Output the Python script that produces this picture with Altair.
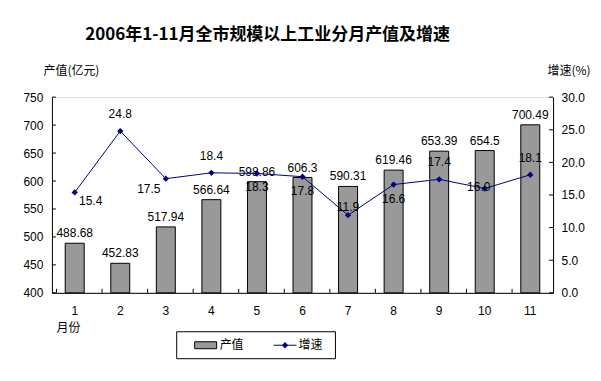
import altair as alt
import pandas as pd

months = [str(i) for i in range(1, 12)]
output = [488.68, 452.83, 517.94, 566.64, 598.86, 606.3, 590.31, 619.46, 653.39, 654.5, 700.49]
output_labels = ["488.68", "452.83", "517.94", "566.64", "598.86", "606.3", "590.31", "619.46", "653.39", "654.5", "700.49"]
growth = [15.4, 24.8, 17.5, 18.4, 18.3, 17.8, 11.9, 16.6, 17.4, 16.0, 18.1]
left_ticks = [400, 450, 500, 550, 600, 650, 700, 750]
right_ticks = [0, 5, 10, 15, 20, 25, 30]

# label placement group per month (style only)
placement = {"1": "rb", "2": "a", "3": "lb", "4": "a", "5": "b", "6": "b", "7": "c",
             "8": "b", "9": "a", "10": "m", "11": "a"}

df = pd.DataFrame({"month": months, "output": output, "olabel": output_labels, "growth": growth})
df["glabel"] = [f"{g:.1f}" for g in growth]
df["place"] = df["month"].map(placement)
lt = pd.DataFrame({"v": left_ticks})
rt = pd.DataFrame({"v": right_ticks})

CJK = "Noto Sans CJK SC"
NUM = "Liberation Sans"
GREY = "#999999"
NAVY = "#000080"
W, H = 502, 196

xaxis = alt.Axis(title="月份", labelAngle=0, ticks=False, titleAnchor="start",
                 titleX=4, titleY=30, titleFont=CJK, titleFontWeight="normal",
                 titleFontSize=12, labelFont=NUM, labelFontSize=12, labelPadding=13,
                 domainColor="black", labelColor="black")
xscale = alt.Scale(paddingInner=0.2, paddingOuter=0.1)
xenc = alt.X("month:N", sort=months, scale=xscale, axis=xaxis)

yaxis_l = alt.Axis(title="产值(亿元)", titleAngle=0, titleAlign="left", titleX=-9, titleY=-20,
                   titleFont=CJK, titleFontWeight="normal", titleFontSize=12,
                   values=left_ticks, labelFont=NUM, labelFontSize=12,
                   ticks=False, grid=False, domainColor="black",
                   labelColor="black", labelPadding=9)
ylscale = alt.Scale(domain=[400, 750], zero=False, nice=False)
yl = alt.Y("output:Q", scale=ylscale, axis=yaxis_l)

bars = alt.Chart(df).mark_bar(size=19, color=GREY, stroke="black", strokeWidth=1).encode(
    x=xenc, y=yl, y2=alt.datum(400))
bar_text = alt.Chart(df).mark_text(font=NUM, fontSize=12, dy=-10, color="black").encode(
    x=xenc, y=yl, text="olabel:N")
xticks = alt.Chart(df).mark_rule(color="black", strokeWidth=1).encode(
    x=alt.X("month:N", sort=months, scale=xscale, axis=xaxis, bandPosition=0),
    y=alt.value(H - 4), y2=alt.value(H))
lticks = alt.Chart(lt).mark_rule(color="black", strokeWidth=1).encode(
    y=alt.Y("v:Q", scale=ylscale, axis=yaxis_l), x=alt.value(0), x2=alt.value(4))

left = alt.layer(bars, bar_text, xticks, lticks)

yaxis_r = alt.Axis(title="增速(%)", orient="right", titleAngle=0, titleAlign="left",
                   titleX=-6, titleY=-20, titleFont=CJK, titleFontWeight="normal", titleFontSize=12,
                   values=right_ticks, format=".1f", labelFont=NUM,
                   labelFontSize=12, ticks=False, grid=False, domainColor="black",
                   labelColor="black", labelPadding=8)
yrscale = alt.Scale(domain=[0, 30], nice=False)
yg = alt.Y("growth:Q", scale=yrscale, axis=yaxis_r)

line = alt.Chart(df).mark_line(color=NAVY, strokeWidth=1,
                               point=alt.OverlayMarkDef(shape="diamond", size=40, color=NAVY, filled=True)).encode(
    x=xenc, y=yg)

offsets = {"rb": (16, 9), "a": (0, -17), "lb": (-17, 10), "b": (0, 14), "c": (0, -8), "m": (-6, -1)}
glayers = []
for key, (dx, dy) in offsets.items():
    glayers.append(alt.Chart(df).transform_filter(alt.datum.place == key).mark_text(
        font=NUM, fontSize=12, dx=dx, dy=dy, color="black").encode(
        x=xenc, y=yg, text="glabel:N"))
rticks = alt.Chart(rt).mark_rule(color="black", strokeWidth=1).encode(
    y=alt.Y("v:Q", scale=yrscale, axis=yaxis_r), x=alt.value(W - 4), x2=alt.value(W))

right = alt.layer(line, *glayers, rticks)

one = pd.DataFrame({"a": [0]})
leg_box = alt.Chart(one).mark_rect(fill="white", stroke="black", strokeWidth=1).encode(
    x=alt.value(125), x2=alt.value(284), y=alt.value(235), y2=alt.value(262))
leg_sw = alt.Chart(one).mark_rect(fill=GREY, stroke="black", strokeWidth=1).encode(
    x=alt.value(143), x2=alt.value(165), y=alt.value(245), y2=alt.value(252))
leg_t1 = alt.Chart(one).mark_text(text="产值", font=CJK, fontSize=12, align="left", baseline="middle").encode(
    x=alt.value(168), y=alt.value(248.5))
leg_ln = alt.Chart(one).mark_rule(color=NAVY, strokeWidth=1).encode(
    x=alt.value(222), x2=alt.value(245), y=alt.value(248.5))
leg_pt = alt.Chart(one).mark_point(shape="diamond", size=40, color=NAVY, filled=True, opacity=1).encode(
    x=alt.value(233.5), y=alt.value(248.5))
leg_t2 = alt.Chart(one).mark_text(text="增速", font=CJK, fontSize=12, align="left", baseline="middle").encode(
    x=alt.value(247), y=alt.value(248.5))
title = alt.Chart(one).mark_text(text="2006年1-11月全市规模以上工业分月产值及增速", font=CJK, fontSize=17,
                                 fontWeight="bold", align="center", baseline="middle", color="black").encode(
    x=alt.value(216), y=alt.value(-62))

legend = alt.layer(leg_box, leg_sw, leg_t1, leg_ln, leg_pt, leg_t2, title)

chart = alt.layer(left, right, legend).resolve_scale(y="independent").properties(
    width=W, height=H,
    autosize=alt.AutoSizeParams(type="none"),
    padding={"left": 44, "top": 89, "right": 40, "bottom": 80},
).configure_view(strokeOpacity=0, strokeWidth=0).configure(background="white")

chart.save("out.html", embed_options={"renderer": "svg", "actions": False})
